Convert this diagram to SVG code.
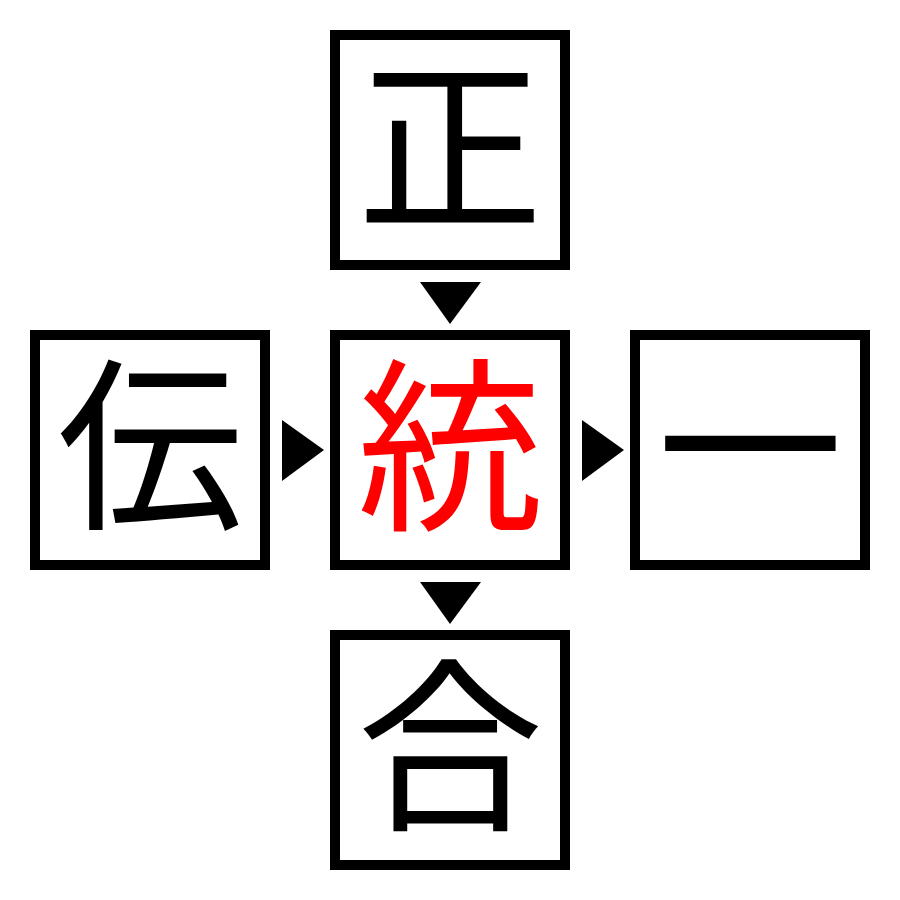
<svg xmlns="http://www.w3.org/2000/svg" width="900" height="900" viewBox="0 0 900 900">
<style>
.box{fill:#fff;stroke:#000;stroke-width:10}
.ch{font-family:"Noto Sans CJK JP","Noto Sans CJK SC",sans-serif;font-size:186px;text-anchor:middle;fill:#000}
.red{fill:#ff0000}
</style>
<rect width="900" height="900" fill="#fff"/>
<g id="node-top"><rect class="box" x="335" y="35" width="230" height="230"/><text class="ch" x="450" y="216">正</text></g>
<g id="node-left"><rect class="box" x="35" y="335" width="230" height="230"/><text class="ch" x="150" y="516">伝</text></g>
<g id="node-center"><rect class="box" x="335" y="335" width="230" height="230"/><text class="ch red" x="450" y="516">統</text></g>
<g id="node-right"><rect class="box" x="635" y="335" width="230" height="230"/><text class="ch" x="750" y="516">一</text></g>
<g id="node-bottom"><rect class="box" x="335" y="635" width="230" height="230"/><text class="ch" x="450" y="816">合</text></g>
<g id="connectors" fill="#000">
<polygon points="420,282 481,282 450,324"/>
<polygon points="420,582 481,582 450,624"/>
<polygon points="282,420 282,481 324,450"/>
<polygon points="582,420 582,481 624,450"/>
</g>
</svg>
